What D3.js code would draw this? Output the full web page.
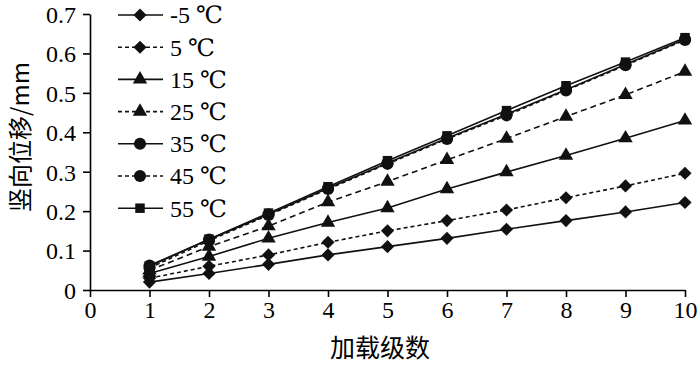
<!DOCTYPE html>
<html>
<head>
<meta charset="utf-8">
<script src="https://cdn.jsdelivr.net/npm/d3@7"></script>
<style>
  body { margin: 0; background: #fff; }
  svg text { font-family: "Liberation Serif", "Times New Roman", "DejaVu Serif", serif; fill: #000; }
  svg text.cjk { font-family: "Noto Sans CJK SC", sans-serif; }
</style>
</head>
<body>
<div id="chart"></div>
<script>
"use strict";

// load levels and vertical displacement (mm) per temperature
var levels = [1, 2, 3, 4, 5, 6, 7, 8, 9, 10];
var labels = ["-5 ℃", "5 ℃", "15 ℃", "25 ℃", "35 ℃", "45 ℃", "55 ℃"];
var tMinus5 = [0.020, 0.042, 0.065, 0.089, 0.110, 0.131, 0.154, 0.176, 0.198, 0.222];
var t5  = [0.030, 0.060, 0.089, 0.121, 0.150, 0.176, 0.203, 0.234, 0.264, 0.296];
var t15 = [0.042, 0.085, 0.131, 0.171, 0.208, 0.256, 0.299, 0.341, 0.385, 0.430];
var t25 = [0.050, 0.110, 0.162, 0.223, 0.275, 0.330, 0.384, 0.440, 0.495, 0.554];
var t35 = [0.062, 0.128, 0.192, 0.258, 0.322, 0.385, 0.446, 0.508, 0.572, 0.636];
var t45 = [0.056, 0.125, 0.190, 0.256, 0.320, 0.383, 0.443, 0.506, 0.570, 0.634];
var t55 = [0.060, 0.129, 0.195, 0.262, 0.328, 0.391, 0.455, 0.518, 0.578, 0.640];
var xTicks = [0, 1, 2, 3, 4, 5, 6, 7, 8, 9, 10];
var yTicks = [0, 0.1, 0.2, 0.3, 0.4, 0.5, 0.6, 0.7];

var series = [
  {name: labels[0], values: tMinus5, dash: null, sym: d3.symbolDiamond2},
  {name: labels[1], values: t5, dash: "4,3", sym: d3.symbolDiamond2},
  {name: labels[2], values: t15, dash: null, sym: d3.symbolTriangle},
  {name: labels[3], values: t25, dash: "6,4", sym: d3.symbolTriangle},
  {name: labels[4], values: t35, dash: null, sym: d3.symbolCircle},
  {name: labels[5], values: t45, dash: "4,3", sym: d3.symbolCircle},
  {name: labels[6], values: t55, dash: null, sym: d3.symbolSquare}
];

var width = 700, height = 366;
var x0 = 90, x1 = 685, y0 = 290, y1 = 14;

var svg = d3.select("#chart").append("svg")
    .attr("width", width)
    .attr("height", height);

var x = d3.scaleLinear().domain([0, 10]).range([x0, x1]);
var y = d3.scaleLinear().domain([0, 0.7]).range([y0, y1]);

var xAxis = svg.append("g")
    .attr("transform", "translate(0," + y0 + ")")
    .call(d3.axisBottom(x).tickValues(xTicks).tickSize(7).tickSizeOuter(0).tickPadding(4));
var yAxis = svg.append("g")
    .attr("transform", "translate(" + x0 + ",0)")
    .call(d3.axisLeft(y).tickValues(yTicks).tickSize(7).tickSizeOuter(0).tickPadding(7)
      .tickFormat(function(d) { return d === 0 ? "0" : d3.format(".1f")(d) }));

svg.selectAll("g").attr("font-family", null);
svg.selectAll(".domain, .tick line").attr("stroke", "#000").attr("stroke-width", 1.6);
svg.selectAll(".tick text")
   .attr("font-size", 24)
   .attr("fill", "#000");
yAxis.selectAll(".tick text").attr("dy", "0.35em");

var line = d3.line()
    .x(function(d, i) { return x(levels[i]) })
    .y(function(d) { return y(d) });

var symSize = function(s) {
  if (s === d3.symbolCircle) return 115;
  if (s === d3.symbolSquare) return 90;
  if (s === d3.symbolTriangle) return 90;
  return 110;
};

series.forEach(function(s) {
  svg.append("path")
     .datum(s.values)
     .attr("fill", "none")
     .attr("stroke", "#111")
     .attr("stroke-width", 1.6)
     .attr("stroke-dasharray", s.dash)
     .attr("d", line);
  svg.selectAll(null)
     .data(s.values)
     .enter()
     .append("path")
     .attr("d", d3.symbol().type(s.sym).size(symSize(s.sym)))
     .attr("transform", function(d, i) { return "translate(" + x(levels[i]) + "," + y(d) + ")" })
     .attr("fill", "#111");
});

// legend
var legend = svg.append("g");
series.forEach(function(s, i) {
  var ly = 15 + i * 32.2;
  legend.append("line")
     .attr("x1", 118).attr("x2", 163)
     .attr("y1", ly).attr("y2", ly)
     .attr("stroke", "#111")
     .attr("stroke-width", 1.6)
     .attr("stroke-dasharray", s.dash ? "4,3" : null);
  legend.append("path")
     .attr("d", d3.symbol().type(s.sym).size(symSize(s.sym)))
     .attr("transform", "translate(140," + ly + ")")
     .attr("fill", "#111");
  legend.append("text")
     .attr("x", 170).attr("y", ly)
     .attr("dy", "0.35em")
     .attr("font-size", 24)
     .text(s.name);
});

svg.append("text")
   .attr("class", "cjk")
   .attr("x", 380).attr("y", 357)
   .attr("text-anchor", "middle")
   .attr("font-size", 25)
   .text("加载级数");

svg.append("text")
   .attr("class", "cjk")
   .attr("transform", "translate(21,137) rotate(-90)")
   .attr("text-anchor", "middle")
   .attr("dy", "0.35em")
   .attr("font-size", 24)
   .text("竖向位移/mm");
</script>
</body>
</html>
